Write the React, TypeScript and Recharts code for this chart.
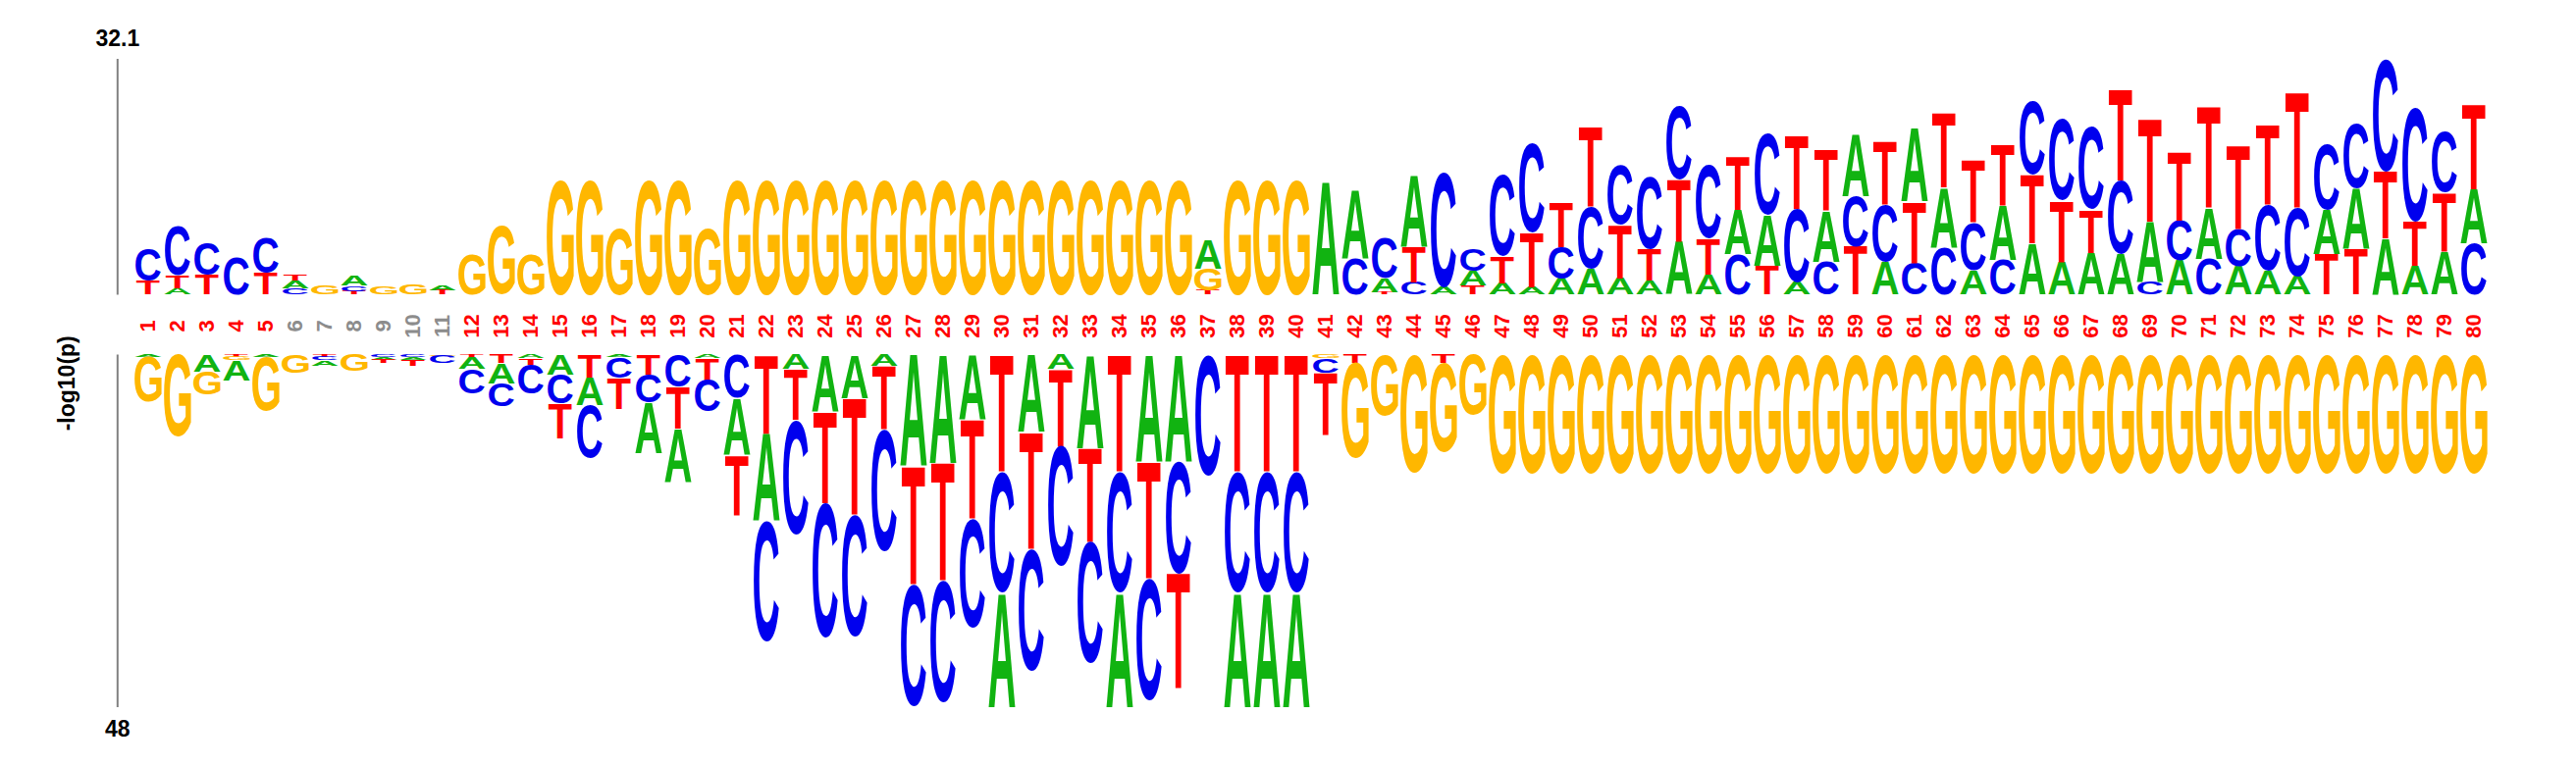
import React from 'react';
import { BarChart, Bar, XAxis, YAxis, ReferenceLine, ReferenceDot } from 'recharts';

// positions along the sequence
const positions = [
  1, 2, 3, 4, 5, 6, 7, 8, 9, 10, 11, 12, 13, 14, 15, 16, 17, 18, 19, 20,
  21, 22, 23, 24, 25, 26, 27, 28, 29, 30, 31, 32, 33, 34, 35, 36, 37, 38, 39, 40,
  41, 42, 43, 44, 45, 46, 47, 48, 49, 50, 51, 52, 53, 54, 55, 56, 57, 58, 59, 60,
  61, 62, 63, 64, 65, 66, 67, 68, 69, 70, 71, 72, 73, 74, 75, 76, 77, 78, 79, 80,
];

// enriched letters, stacked from the axis upward
const upSeq = [
  'TC', 'ATC', 'TC', 'C', 'TC', 'CAT', 'G', 'TCA', 'G', 'G',
  'TA', 'G', 'G', 'G', 'G', 'G', 'G', 'G', 'G', 'G',
  'G', 'G', 'G', 'G', 'G', 'G', 'G', 'G', 'G', 'G',
  'G', 'G', 'G', 'G', 'G', 'G', 'TGA', 'G', 'G', 'G',
  'A', 'CA', 'TAC', 'CTA', 'AC', 'TAC', 'ATC', 'ATC', 'ACT', 'ACT',
  'ATC', 'ATC', 'ATC', 'ATC', 'CAT', 'TAC', 'ACT', 'CAT', 'TCA', 'ACT',
  'CTA', 'CAT', 'ACT', 'CAT', 'ATC', 'ATC', 'ATC', 'ACT', 'CAT', 'ACT',
  'CAT', 'ACT', 'ACT', 'ACT', 'TAC', 'TAC', 'ATC', 'ATC', 'ATC', 'CAT',
];

const upVal = [
  [1.9, 4.3], [0.9, 1.7, 6.7], [2.7, 4.3], [5.0], [3.0, 4.7],
  [0.9, 1.0, 0.9], [1.2], [0.5, 0.7, 1.3], [1.0], [1.4],
  [0.6, 0.6], [5.4], [9.4], [5.5], [15.7],
  [15.7], [9.2], [15.7], [15.7], [9.2],
  [15.7], [15.7], [15.7], [15.7], [15.7],
  [15.7], [15.7], [15.7], [15.7], [15.7],
  [15.7], [15.7], [15.7], [15.7], [15.7],
  [15.7], [0.6, 3.0, 3.9], [15.7], [15.7], [15.7],
  [15.5], [4.9, 9.3], [0.3, 1.9, 5.5], [1.7, 4.9, 9.7], [1.0, 15.7],
  [1.2, 2.0, 2.9], [1.5, 3.7, 11.1], [1.0, 7.5, 12.2], [2.2, 4.3, 6.0], [3.5, 8.5, 10.9],
  [2.2, 7.3, 8.0], [1.9, 4.3, 9.9], [7.2, 8.5, 10.0], [2.7, 4.9, 10.0], [5.5, 6.1, 7.3],
  [3.9, 7.0, 11.0], [1.7, 10.0, 10.1], [4.5, 7.0, 8.3], [6.5, 6.9, 8.5], [4.5, 7.7, 8.7],
  [4.3, 8.4, 10.1], [6.5, 8.1, 10.2], [3.3, 6.5, 8.5], [4.7, 7.5, 8.3], [7.0, 9.4, 10.1],
  [4.5, 8.3, 11.0], [5.7, 5.9, 11.2], [5.5, 10.1, 12.4], [1.7, 8.3, 14.1], [4.7, 5.4, 9.3],
  [4.9, 6.9, 13.9], [3.9, 5.0, 11.5], [3.3, 8.9, 11.0], [2.5, 9.3, 15.7], [5.5, 6.1, 8.9],
  [6.2, 8.3, 8.8], [7.7, 9.1, 15.3], [3.9, 6.1, 15.4], [5.9, 8.0, 8.3], [7.0, 7.4, 11.6],
];

// depleted letters, stacked from the axis downward
const dnSeq = [
  'AG', 'G', 'AG', 'TGA', 'AG', 'G', 'TCA', 'G', 'CAT', 'CAT',
  'GC', 'TAC', 'TAC', 'ATC', 'ACT', 'TAC', 'ACT', 'TCA', 'CTA', 'ATC',
  'CAT', 'TAC', 'ATC', 'ATC', 'ATC', 'ATC', 'ATC', 'ATC', 'ATC', 'TCA',
  'ATC', 'ATC', 'ATC', 'TCA', 'ATC', 'ACT', 'C', 'TCA', 'TCA', 'TCA',
  'GCT', 'TG', 'G', 'G', 'TG', 'G', 'G', 'G', 'G', 'G',
  'G', 'G', 'G', 'G', 'G', 'G', 'G', 'G', 'G', 'G',
  'G', 'G', 'G', 'G', 'G', 'G', 'G', 'G', 'G', 'G',
  'G', 'G', 'G', 'G', 'G', 'G', 'G', 'G', 'G', 'G',
];

const dnVal = [
  [0.3, 6.1], [11.2], [2.3, 3.1], [0.3, 0.5, 2.8], [0.4, 7.3],
  [2.5], [0.3, 0.5, 0.7], [2.2], [0.3, 0.4, 0.5], [0.3, 0.4, 0.9],
  [0.2, 1.0], [0.4, 1.6, 3.4], [1.2, 2.7, 3.2], [0.5, 0.9, 4.0], [2.7, 4.0, 4.7],
  [3.1, 3.8, 7.2], [0.4, 2.8, 4.2], [2.7, 3.8, 6.9], [4.4, 5.7, 7.3], [0.5, 3.0, 4.3],
  [5.9, 7.7, 8.2], [10.7, 12.0, 16.3], [2.0, 6.9, 15.5], [7.7, 12.5, 18.3], [5.9, 15.9, 16.5],
  [1.5, 8.7, 16.5], [15.2, 16.1, 16.5], [14.7, 16.1, 16.5], [8.9, 13.5, 14.7], [16.0, 16.4, 15.6],
  [10.5, 16.0, 16.5], [2.0, 10.5, 16.3], [12.7, 12.8, 16.5], [16.0, 16.4, 15.6], [14.5, 16.0, 16.5],
  [14.5, 15.3, 15.7], [16.4], [16.0, 16.4, 15.6], [16.0, 16.4, 15.6], [16.0, 16.4, 15.6],
  [0.5, 2.0, 8.5], [1.2, 13.0], [8.3], [16.0], [1.2, 12.2],
  [8.2], [16.2], [16.2], [16.2], [16.2],
  [16.2], [16.2], [16.2], [16.2], [16.2],
  [16.2], [16.2], [16.2], [16.2], [16.2],
  [16.2], [16.2], [16.2], [16.2], [16.2],
  [16.2], [16.2], [16.2], [16.2], [16.2],
  [16.2], [16.2], [16.2], [16.2], [16.2],
  [16.2], [16.2], [16.2], [16.2], [16.2],
];

// positions whose label is greyed out (not significant)
const grayPos = [6, 7, 8, 9, 10, 11];

const TOP_MAX = 32.1;
const BOTTOM_MAX = 48;
const GAP = 8.13; // room for the position numbers, in -log10(p) units
const AXIS_X = -0.533; // axis line, on the numeric x axis
const LAYERS = [0, 1, 2, 3];

const FONT = '"Liberation Sans", Arial, Helvetica, sans-serif';
const COLORS: Record<string, string> = { A: '#11b311', C: '#0000ee', G: '#ffb700', T: '#ff0000' };
const INK_W: Record<string, number> = { A: 0.91, C: 0.86, G: 0.92, T: 0.8 };

type Box = { l: number; r: number; a: number; d: number };

function measureGlyphs(): Record<string, Box> {
  const out: Record<string, Box> = {
    A: { l: 0, r: 72, a: 71.6, d: 0 },
    C: { l: -4.3, r: 67.6, a: 72.8, d: 1.2 },
    G: { l: -4.4, r: 72.4, a: 72.8, d: 1.2 },
    T: { l: -2.2, r: 58.9, a: 71.6, d: 0 },
  };
  try {
    const ctx = document.createElement('canvas').getContext('2d');
    if (ctx) {
      ctx.font = `bold 100px ${FONT}`;
      for (const ch of 'ACGT') {
        const m = ctx.measureText(ch);
        if (m.actualBoundingBoxAscent > 0) {
          out[ch] = {
            l: m.actualBoundingBoxLeft,
            r: m.actualBoundingBoxRight,
            a: m.actualBoundingBoxAscent,
            d: m.actualBoundingBoxDescent,
          };
        }
      }
    }
  } catch (e) {
    // keep fallback metrics
  }
  return out;
}

const GLYPH = measureGlyphs();

const rows = positions.map((p, i) => {
  const row: Record<string, number | string> = { pos: p, gap: -GAP };
  LAYERS.forEach((k) => {
    row[`u${k}`] = upVal[i][k] ?? 0;
    row[`uL${k}`] = upSeq[i][k] ?? '';
    row[`d${k}`] = -(dnVal[i][k] ?? 0);
    row[`dL${k}`] = dnSeq[i][k] ?? '';
  });
  return row;
});

function Glyph(props: any) {
  const { x, y, width, height, letter } = props;
  if (!letter || !GLYPH[letter]) return null;
  const h = Math.abs(height);
  if (!(h > 0.2)) return null;
  const top = Math.min(y, y + height);
  const g = GLYPH[letter];
  const w = width * INK_W[letter];
  const sx = w / (g.l + g.r);
  const sy = h / (g.a + g.d);
  return (
    <text
      x={0}
      y={0}
      fontSize={100}
      fontWeight="bold"
      fontFamily={FONT}
      fill={COLORS[letter]}
      transform={`translate(${x + (width - w) / 2} ${top}) scale(${sx} ${sy}) translate(${g.l} ${g.a})`}
    >
      {letter}
    </text>
  );
}

function PosLabel(props: any) {
  const { x, y, width, height, payload } = props;
  const top = Math.min(y, y + height);
  const cx = x + width / 2;
  const cy = top + Math.abs(height) / 2 + 1.5;
  return (
    <text
      x={cx}
      y={cy}
      transform={`rotate(-90 ${cx} ${cy})`}
      textAnchor="middle"
      dominantBaseline="central"
      fontSize={22}
      fontWeight="bold"
      fontFamily={FONT}
      fill={grayPos.includes(payload.pos) ? '#8c8c8c' : '#ff0000'}
    >
      {payload.pos}
    </text>
  );
}

const axisText = (value: string, dy: number, rotate = false) => (p: any) => (
  <text
    x={p.cx}
    y={p.cy + dy}
    transform={rotate ? `rotate(-90 ${p.cx} ${p.cy + dy})` : undefined}
    textAnchor="middle"
    dominantBaseline="central"
    fontSize={23}
    fontWeight="bold"
    fontFamily={FONT}
    fill="#000"
  >
    {value}
  </text>
);

export default function App() {
  return (
    <BarChart
      width={2609}
      height={765}
      data={rows}
      stackOffset="sign"
      barCategoryGap={0}
      barGap={0}
      margin={{ top: 52, right: 81, bottom: 52, left: 128 }}
    >
      <XAxis dataKey="pos" hide />
      <XAxis xAxisId="n" type="number" domain={[0.5, 80.5]} allowDataOverflow hide />
      <YAxis type="number" domain={[-(GAP + BOTTOM_MAX), TOP_MAX]} allowDataOverflow hide />

      <Bar dataKey="gap" stackId="s" isAnimationActive={false} shape={(p: any) => <PosLabel {...p} />} />
      {LAYERS.map((k) => (
        <Bar
          key={`d${k}`}
          dataKey={`d${k}`}
          stackId="s"
          isAnimationActive={false}
          shape={(p: any) => <Glyph {...p} letter={p.payload[`dL${k}`]} />}
        />
      ))}
      {LAYERS.map((k) => (
        <Bar
          key={`u${k}`}
          dataKey={`u${k}`}
          stackId="s"
          isAnimationActive={false}
          shape={(p: any) => <Glyph {...p} letter={p.payload[`uL${k}`]} />}
        />
      ))}

      <ReferenceLine
        xAxisId="n"
        segment={[{ x: AXIS_X, y: TOP_MAX }, { x: AXIS_X, y: 0 }]}
        stroke="#808080"
        strokeWidth={2}
        ifOverflow="visible"
      />
      <ReferenceLine
        xAxisId="n"
        segment={[{ x: AXIS_X, y: -GAP }, { x: AXIS_X, y: -(GAP + BOTTOM_MAX) }]}
        stroke="#808080"
        strokeWidth={2}
        ifOverflow="visible"
      />
      <ReferenceDot xAxisId="n" x={AXIS_X} y={TOP_MAX} r={1} ifOverflow="visible" shape={axisText('32.1', -21)} />
      <ReferenceDot
        xAxisId="n"
        x={AXIS_X}
        y={-(GAP + BOTTOM_MAX)}
        r={1}
        ifOverflow="visible"
        shape={axisText('48', 22)}
      />
      <ReferenceDot xAxisId="n" x={-2.24} y={-12.05} r={1} ifOverflow="visible" shape={axisText('-log10(p)', 0, true)} />
    </BarChart>
  );
}
